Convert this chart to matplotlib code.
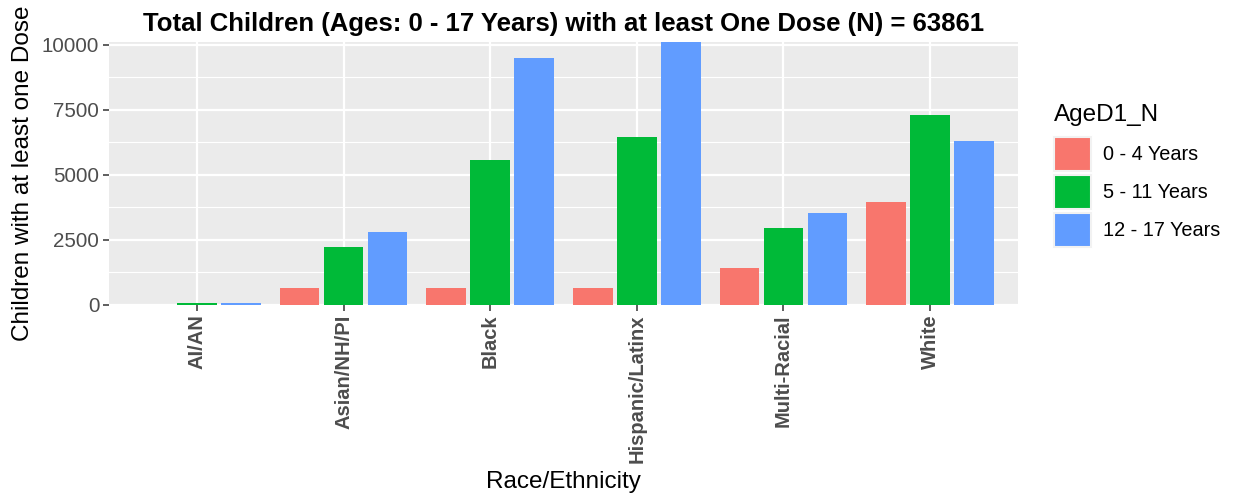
import matplotlib
matplotlib.use("Agg")
import matplotlib.pyplot as plt
import numpy as np
from matplotlib.patches import Patch

categories = ["AI/AN", "Asian/NH/PI", "Black", "Hispanic/Latinx", "Multi-Racial", "White"]
groups = ["0 - 4 Years", "5 - 11 Years", "12 - 17 Years"]
vals_0_4 = [0, 643, 640, 643, 1415, 3960]
vals_5_11 = [70, 2225, 5580, 6468, 2958, 7280]
vals_12_17 = [60, 2804, 9477, 10117, 3537, 6306]
colors = ["#F8766D", "#00BA38", "#619CFF"]
yticks = [0, 2500, 5000, 7500, 10000]

plt.rcParams['font.family'] = ['Liberation Sans', 'DejaVu Sans']

W, H = 1235, 497
fig = plt.figure(figsize=(W / 100, H / 100), dpi=100)
left, right, top, bottom = 109, 1018, 41.7, 304.7
ax = fig.add_axes([left / W, 1 - bottom / H, (right - left) / W, (bottom - top) / H])

ax.set_facecolor("#EBEBEB")
for s in ax.spines.values():
    s.set_visible(False)

x = np.arange(len(categories))
bw = 0.27
series = [vals_0_4, vals_5_11, vals_12_17]
for i, (vals, c, g) in enumerate(zip(series, colors, groups)):
    ax.bar(x + (i - 1) * 0.3, vals, width=bw, color=c, label=g, zorder=3)

ymax = max(max(s) for s in series)
ax.set_ylim(0, ymax)
ax.set_xlim(-0.6, len(categories) - 0.4)

ax.set_yticks(yticks)
ax.set_yticks([1250, 3750, 6250, 8750], minor=True)
ax.set_xticks(x)
ax.set_xticklabels(categories, rotation=90, fontweight="bold", color="#4D4D4D", fontsize=14.5)
ax.set_yticklabels([str(v) for v in yticks], color="#4D4D4D", fontsize=14.8)
ax.grid(which="major", color="white", linewidth=1.6, zorder=0)
ax.grid(which="minor", axis="y", color="white", linewidth=0.8, zorder=0)
ax.set_axisbelow(True)
ax.tick_params(axis="both", which="major", color="#333333", length=4, width=1.1, pad=3)
ax.tick_params(axis="both", which="minor", length=0)

ax.set_xlabel("Race/Ethnicity", fontsize=17.5, labelpad=6)
ax.set_ylabel("Children with at least one Dose", fontsize=17.5, labelpad=6)

ax.set_title("Total Children (Ages: 0 - 17 Years) with at least One Dose (N) = 63861",
             fontsize=18.5, fontweight="bold", pad=8)

handles = [Patch(facecolor=c, edgecolor="#F2F2F2", linewidth=1.5) for c in colors]
leg = fig.legend(handles, groups, title="AgeD1_N", loc="upper left",
                 bbox_to_anchor=(1046 / W, 1 - 96 / H), frameon=False,
                 fontsize=14.3, title_fontsize=17.5, handlelength=1.86, handleheight=2.25,
                 handletextpad=0.6, labelspacing=0.2, borderaxespad=0)
leg._legend_box.align = "left"
leg._legend_box.sep = 8

fig.savefig("out.png", dpi=100)
